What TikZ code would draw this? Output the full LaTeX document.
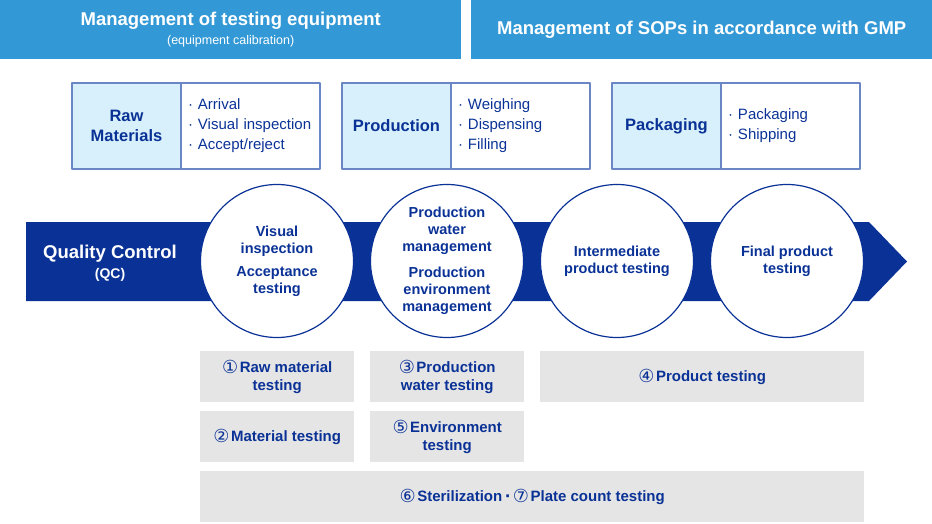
\documentclass[tikz,border=0pt]{standalone}
\usepackage{fontspec}
\setmainfont{Liberation Sans}
\newfontfamily\circfont{DejaVu Sans}
\usepackage{tikz}
\usetikzlibrary{positioning}
\definecolor{gmpblue}{HTML}{3399D6}
\definecolor{qcnavy}{HTML}{0A3296}
\definecolor{stagefill}{HTML}{D7F0FB}
\definecolor{stageline}{HTML}{6A86C4}
\definecolor{testgrey}{HTML}{E5E5E5}
\newcommand{\cnum}[1]{\raisebox{-1.5pt}{\circfont\mdseries\fontsize{18}{18}\selectfont #1}\kern1.5pt}

\begin{document}
\begin{tikzpicture}[x=1pt,y=-1pt,line join=round,
  every node/.style={text=qcnavy,font=\fontsize{15}{20}\selectfont},
  topbar/.style={fill=gmpblue,text=white,inner sep=0,minimum width=461,minimum height=59,
    anchor=north west,align=center,font=\bfseries\fontsize{18.5}{20}\selectfont},
  stagename/.style={draw=stageline,line width=1.2pt,fill=stagefill,minimum width=109,
    minimum height=86,inner sep=0,outer sep=0,align=center,anchor=north west,
    font=\bfseries\fontsize{16.5}{20}\selectfont},
  stagelist/.style={draw=stageline,line width=1.2pt,minimum width=139,minimum height=86,
    inner sep=0,outer sep=0,align=left,text width=125},
  stagecirc/.style={circle,draw=qcnavy,line width=1.2pt,fill=white,minimum size=153,
    inner sep=0,align=center,font=\bfseries\fontsize{14.5}{17}\selectfont},
  testbox/.style={fill=testgrey,minimum height=51,inner sep=0,anchor=north west,
    align=center,font=\bfseries\fontsize{15}{18}\selectfont}]
\useasboundingbox (0,0) rectangle (932,524);

% management bars
\node[topbar] (eqbar) at (0,0) {Management of testing equipment\\[-1pt]
  {\mdseries\fontsize{12.5}{14}\selectfont (equipment calibration)}};
\node[topbar] (sopbar) at (471,0) {Management of SOPs in accordance with GMP};

% process stages
\node[stagename] (raw) at (72,83) {Raw\\Materials};
\node[stagelist,right=0pt of raw] (rawlist) {· Arrival\\· Visual inspection\\· Accept/reject};
\node[stagename] (prod) at (342,83) {Production};
\node[stagelist,right=0pt of prod] (prodlist) {· Weighing\\· Dispensing\\· Filling};
\node[stagename] (pack) at (612,83) {Packaging};
\node[stagelist,right=0pt of pack] (packlist) {· Packaging\\· Shipping};

% QC arrow
\fill[qcnavy] (26,222) -- (869,222) -- (907,261.5) -- (869,301) -- (26,301) -- cycle;
\node[text=white,align=center,font=\bfseries\fontsize{18.5}{20}\selectfont] (qc) at (110,263)
  {Quality Control\\{\fontsize{14}{16}\selectfont (QC)}};

\node[stagecirc] (visual) at (277,261) {Visual\\inspection\\[6pt]Acceptance\\testing};
\node[stagecirc] (water) at (447,261) {Production\\water\\management\\[9pt]Production\\environment\\management};
\node[stagecirc] (inter) at (617,261) {Intermediate\\product testing};
\node[stagecirc] (final) at (787,261) {Final product\\testing};

% tests
\node[testbox,minimum width=154] (rawtest) at (200,351) {\cnum{①}Raw material\\testing};
\node[testbox,minimum width=154] (watertest) at (370,351) {\cnum{③}Production\\water testing};
\node[testbox,minimum width=324] (prodtest) at (540,351) {\cnum{④}Product testing};
\node[testbox,minimum width=154] (mattest) at (200,411) {\cnum{②}Material testing};
\node[testbox,minimum width=154] (envtest) at (370,411) {\cnum{⑤}Environment\\testing};
\node[testbox,minimum width=664] (steriltest) at (200,471)
  {\cnum{⑥}Sterilization\,{\circfont ·}\,\cnum{⑦}Plate count testing};
\end{tikzpicture}
\end{document}
